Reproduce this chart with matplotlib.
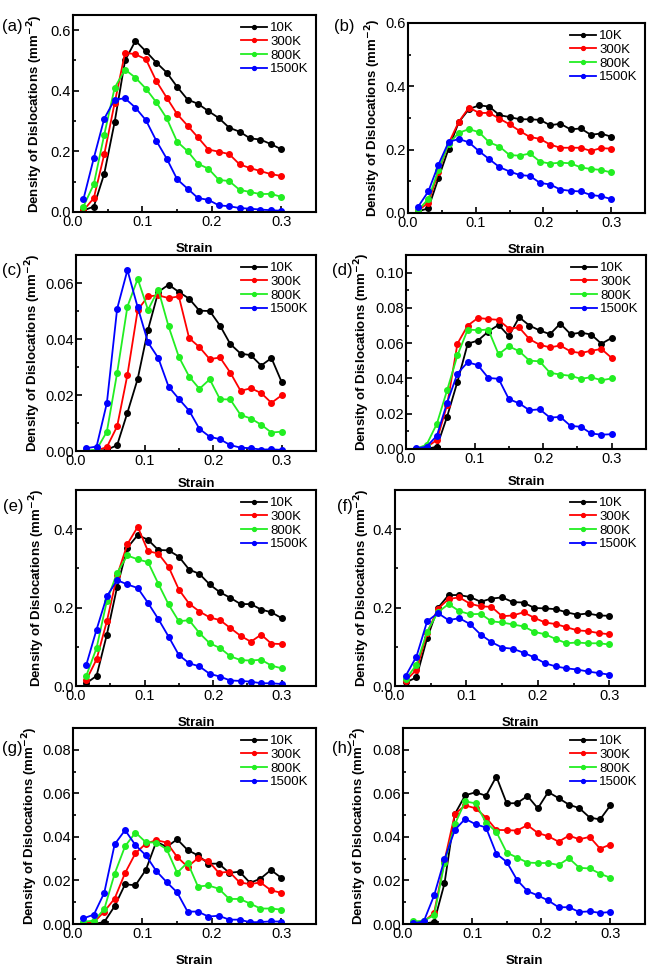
import numpy as np
import matplotlib
matplotlib.use("Agg")
from matplotlib import pyplot as plt
from matplotlib.ticker import MultipleLocator

plt.rcParams["font.family"] = ["Liberation Sans", "DejaVu Sans"]
narrow = ["Liberation Sans Narrow", "Liberation Sans"]

# strain values (same for every panel)
strain = [0.015, 0.03, 0.045, 0.06, 0.075, 0.09, 0.105, 0.12, 0.135, 0.15,
          0.165, 0.18, 0.195, 0.21, 0.225, 0.24, 0.255, 0.27, 0.285, 0.3]
temps = ["10K", "300K", "800K", "1500K"]
colors = ["#000000", "#ff0000", "#22ee22", "#0000ff"]

# panel (a)
a_10 = [0.005, 0.018, 0.126, 0.297, 0.50, 0.565, 0.53, 0.493, 0.46, 0.413,
        0.371, 0.357, 0.333, 0.31, 0.278, 0.265, 0.243, 0.239, 0.224, 0.207]
a_300 = [0.005, 0.046, 0.19, 0.36, 0.526, 0.52, 0.504, 0.432, 0.377, 0.323,
         0.285, 0.246, 0.206, 0.199, 0.191, 0.157, 0.145, 0.135, 0.125, 0.119]
a_800 = [0.018, 0.092, 0.255, 0.41, 0.47, 0.443, 0.407, 0.362, 0.309, 0.232,
         0.201, 0.159, 0.143, 0.106, 0.102, 0.073, 0.066, 0.059, 0.06, 0.05]
a_1500 = [0.042, 0.178, 0.308, 0.371, 0.375, 0.344, 0.303, 0.235, 0.176, 0.108,
          0.077, 0.046, 0.04, 0.022, 0.019, 0.013, 0.011, 0.008, 0.006, 0.004]

# panel (b)
b_10 = [0.005, 0.015, 0.11, 0.203, 0.287, 0.328, 0.34, 0.336, 0.309, 0.303,
        0.296, 0.296, 0.294, 0.277, 0.282, 0.264, 0.267, 0.247, 0.251, 0.241]
b_300 = [0.007, 0.033, 0.13, 0.22, 0.288, 0.333, 0.316, 0.316, 0.298, 0.28,
         0.259, 0.24, 0.234, 0.216, 0.206, 0.206, 0.206, 0.196, 0.205, 0.203]
b_800 = [0.009, 0.044, 0.136, 0.219, 0.253, 0.265, 0.255, 0.223, 0.21, 0.183,
         0.181, 0.188, 0.162, 0.156, 0.159, 0.157, 0.144, 0.139, 0.136, 0.128]
b_1500 = [0.02, 0.068, 0.153, 0.224, 0.234, 0.223, 0.195, 0.17, 0.145, 0.131,
          0.12, 0.117, 0.095, 0.09, 0.074, 0.07, 0.068, 0.057, 0.053, 0.044]

# panel (c)
c_10 = [0.0, 0.0, 0.0004, 0.0021, 0.0137, 0.0258, 0.0433, 0.0568, 0.0594, 0.0568,
        0.0544, 0.0501, 0.05, 0.0448, 0.0382, 0.0348, 0.0342, 0.0305, 0.0332, 0.0246]
c_300 = [0.0, 0.0002, 0.0014, 0.0088, 0.0272, 0.0504, 0.0552, 0.0556, 0.0546, 0.0552,
         0.0403, 0.0371, 0.0328, 0.0334, 0.028, 0.0215, 0.0224, 0.0207, 0.0172, 0.0199]
c_800 = [0.0001, 0.0005, 0.0069, 0.0279, 0.0516, 0.0615, 0.0504, 0.0576, 0.0445, 0.0336,
         0.0266, 0.0222, 0.0256, 0.0185, 0.0184, 0.0129, 0.0116, 0.0094, 0.0066, 0.0069]
c_1500 = [0.001, 0.0016, 0.0171, 0.0508, 0.0646, 0.0513, 0.0388, 0.0332, 0.023, 0.0186,
          0.0144, 0.0079, 0.0051, 0.0042, 0.0021, 0.0012, 0.001, 0.0005, 0.0006, 0.0004]

# panel (d)
d_10 = [0.0, 0.0, 0.0013, 0.0184, 0.0381, 0.0597, 0.0615, 0.0666, 0.0704, 0.064,
        0.0747, 0.07, 0.0672, 0.0651, 0.0711, 0.0651, 0.066, 0.0649, 0.0597, 0.063]
d_300 = [0.0, 0.001, 0.0051, 0.025, 0.0597, 0.07, 0.0743, 0.0737, 0.0732, 0.0683,
         0.0689, 0.0623, 0.0591, 0.0576, 0.0587, 0.0553, 0.0544, 0.0557, 0.0567, 0.0516]
d_800 = [0.0002, 0.0024, 0.0143, 0.0334, 0.0531, 0.0677, 0.0674, 0.0677, 0.0537, 0.0582,
         0.0555, 0.0501, 0.0497, 0.0432, 0.0422, 0.0415, 0.0398, 0.0407, 0.039, 0.04]
d_1500 = [0.0004, 0.0013, 0.0075, 0.0263, 0.0428, 0.0492, 0.0475, 0.0403, 0.0398, 0.0283,
          0.0259, 0.022, 0.0225, 0.0178, 0.0182, 0.0131, 0.0126, 0.0088, 0.0081, 0.0084]

# panel (e)
e_10 = [0.007, 0.026, 0.131, 0.253, 0.353, 0.385, 0.373, 0.347, 0.346, 0.33,
        0.297, 0.286, 0.259, 0.239, 0.225, 0.209, 0.209, 0.195, 0.188, 0.173]
e_300 = [0.015, 0.068, 0.165, 0.282, 0.362, 0.406, 0.344, 0.338, 0.304, 0.246,
         0.21, 0.19, 0.175, 0.168, 0.148, 0.128, 0.113, 0.131, 0.108, 0.107]
e_800 = [0.026, 0.097, 0.217, 0.289, 0.333, 0.323, 0.316, 0.261, 0.208, 0.165,
         0.168, 0.135, 0.109, 0.097, 0.076, 0.066, 0.065, 0.067, 0.052, 0.045]
e_1500 = [0.054, 0.144, 0.229, 0.27, 0.259, 0.25, 0.212, 0.171, 0.126, 0.079,
          0.058, 0.05, 0.031, 0.024, 0.014, 0.013, 0.011, 0.007, 0.007, 0.005]

# panel (f)
f_10 = [0.009, 0.022, 0.122, 0.199, 0.232, 0.232, 0.227, 0.215, 0.223, 0.226,
        0.214, 0.213, 0.199, 0.198, 0.196, 0.188, 0.182, 0.185, 0.18, 0.179]
f_300 = [0.014, 0.041, 0.135, 0.197, 0.222, 0.226, 0.21, 0.203, 0.202, 0.178,
         0.18, 0.188, 0.174, 0.162, 0.158, 0.15, 0.142, 0.14, 0.135, 0.132]
f_800 = [0.017, 0.054, 0.139, 0.188, 0.209, 0.191, 0.183, 0.184, 0.165, 0.162,
         0.157, 0.152, 0.138, 0.132, 0.12, 0.109, 0.111, 0.109, 0.109, 0.106]
f_1500 = [0.026, 0.075, 0.165, 0.186, 0.168, 0.173, 0.158, 0.131, 0.112, 0.098,
          0.095, 0.085, 0.073, 0.058, 0.05, 0.045, 0.042, 0.037, 0.033, 0.029]

# panel (g)
g_10 = [0.0, 0.0, 0.0009, 0.0082, 0.0182, 0.0178, 0.0249, 0.0378, 0.0354, 0.0389,
        0.034, 0.0315, 0.0277, 0.0277, 0.0235, 0.024, 0.0189, 0.0208, 0.0248, 0.0212]
g_300 = [0.0003, 0.0008, 0.0057, 0.0117, 0.0234, 0.0325, 0.0369, 0.0385, 0.0374, 0.0308,
         0.0263, 0.0302, 0.0289, 0.0235, 0.024, 0.0191, 0.0183, 0.0191, 0.0155, 0.0143]
g_800 = [0.0011, 0.0015, 0.0068, 0.0231, 0.0357, 0.042, 0.0375, 0.0374, 0.0343, 0.0235,
         0.0282, 0.0172, 0.0177, 0.0162, 0.0115, 0.0115, 0.0094, 0.0071, 0.0071, 0.0066]
g_1500 = [0.0026, 0.0043, 0.0143, 0.0366, 0.0431, 0.0362, 0.0315, 0.0243, 0.0192, 0.0145,
          0.0057, 0.0057, 0.0034, 0.0038, 0.002, 0.002, 0.0008, 0.0009, 0.0012, 0.0011]

# panel (h)
h_10 = [0.0, 0.0002, 0.0009, 0.0186, 0.0505, 0.0591, 0.0605, 0.0589, 0.0677, 0.0554,
        0.0555, 0.0588, 0.0531, 0.0606, 0.0578, 0.0548, 0.0532, 0.0489, 0.048, 0.0545]
h_300 = [0.0002, 0.0011, 0.0051, 0.029, 0.0505, 0.0545, 0.0531, 0.0489, 0.0432, 0.0431,
         0.0429, 0.0454, 0.0418, 0.0403, 0.0378, 0.0406, 0.0389, 0.04, 0.0346, 0.0365]
h_800 = [0.0012, 0.0015, 0.004, 0.028, 0.0458, 0.0563, 0.0554, 0.0466, 0.0423, 0.0328,
         0.0305, 0.0282, 0.028, 0.028, 0.0271, 0.0302, 0.0258, 0.0255, 0.0231, 0.0212]
h_1500 = [0.0003, 0.0012, 0.0131, 0.0297, 0.0432, 0.0483, 0.0458, 0.0443, 0.0323, 0.0285,
          0.0202, 0.0151, 0.0131, 0.0108, 0.0077, 0.0077, 0.0055, 0.0058, 0.0051, 0.0055]

panels = [
    ("(a)", [a_10, a_300, a_800, a_1500], 0.65, 0.2),
    ("(b)", [b_10, b_300, b_800, b_1500], 0.60, 0.2),
    ("(c)", [c_10, c_300, c_800, c_1500], 0.07, 0.02),
    ("(d)", [d_10, d_300, d_800, d_1500], 0.11, 0.02),
    ("(e)", [e_10, e_300, e_800, e_1500], 0.50, 0.2),
    ("(f)", [f_10, f_300, f_800, f_1500], 0.50, 0.2),
    ("(g)", [g_10, g_300, g_800, g_1500], 0.09, 0.02),
    ("(h)", [h_10, h_300, h_800, h_1500], 0.09, 0.02),
]

# axes boxes in pixels: left, top, right, bottom
boxes = [(73, 15, 316, 212), (408, 23, 645, 213),
         (76, 255, 316, 451), (406, 255, 646, 449),
         (76, 490, 316, 686), (395, 490, 645, 686),
         (73, 728, 316, 924), (403, 728, 645, 924)]
# panel letter positions in pixels (left, centre y)
letter_pos = [(2, 27), (334, 27), (2, 271), (332, 271),
              (3, 506), (337, 506), (2, 748), (332, 748)]
# right edge of the rotated y label, in pixels
ylab_x = [45, 383, 43, 372, 47, 372, 40, 369]
# gap between axis and "Strain" label, points
xlab_pad = [10, 10, 7.5, 7.5, 10, 10, 10, 10]

W, H = 661, 977
fig = plt.figure(figsize=(W / 100, H / 100), dpi=100)

for (label, series, ymax, ystep), (l, t, r, b), (lx, ly), yx, xp in zip(
        panels, boxes, letter_pos, ylab_x, xlab_pad):
    ax = fig.add_axes([l / W, 1 - b / H, (r - l) / W, (b - t) / H])
    for vals, name, c in zip(series, temps, colors):
        ax.plot(strain, vals, "-o", color=c, lw=1.3, ms=4,
                mec=c, mfc=c, label=name)
    ax.set_xlim(0, 0.35)
    ax.set_ylim(0, ymax)
    ax.xaxis.set_major_locator(MultipleLocator(0.1))
    ax.xaxis.set_minor_locator(MultipleLocator(0.05))
    ax.yaxis.set_major_locator(MultipleLocator(ystep))
    ax.yaxis.set_minor_locator(MultipleLocator(ystep / 2))
    if ystep == 0.2:
        ax.yaxis.set_major_formatter(plt.FormatStrFormatter("%.1f"))
    else:
        ax.yaxis.set_major_formatter(plt.FormatStrFormatter("%.2f"))
    ax.xaxis.set_major_formatter(plt.FormatStrFormatter("%.1f"))
    ax.tick_params(which="both", direction="in", labelsize=10.5, width=1.2)
    ax.tick_params(which="major", length=4)
    ax.tick_params(which="minor", length=2)
    ax.tick_params(axis="x", pad=2)
    ax.tick_params(axis="y", pad=1.5)
    for tl in ax.get_xticklabels() + ax.get_yticklabels():
        tl.set_family(narrow)
    for s in ax.spines.values():
        s.set_linewidth(1.5)
    ax.set_xlabel("Strain", fontsize=9.5, fontweight="bold", labelpad=xp)
    ax.set_ylabel("Density of Dislocations (mm$^{\\mathbf{-2}}$)",
                  fontsize=9.5, fontweight="bold")
    ax.yaxis.set_label_coords((yx - l) / (r - l), 0.5)
    leg = ax.legend(loc="upper right", frameon=False,
                    prop={"family": narrow, "size": 9.5},
                    handlelength=2.0, handletextpad=0.25, markerscale=0.7,
                    labelspacing=0.1, borderaxespad=0.15, numpoints=1)
    fig.text(lx / W, 1 - ly / H, label, fontsize=12, va="center", ha="left")

fig.savefig("out.png", dpi=100)
